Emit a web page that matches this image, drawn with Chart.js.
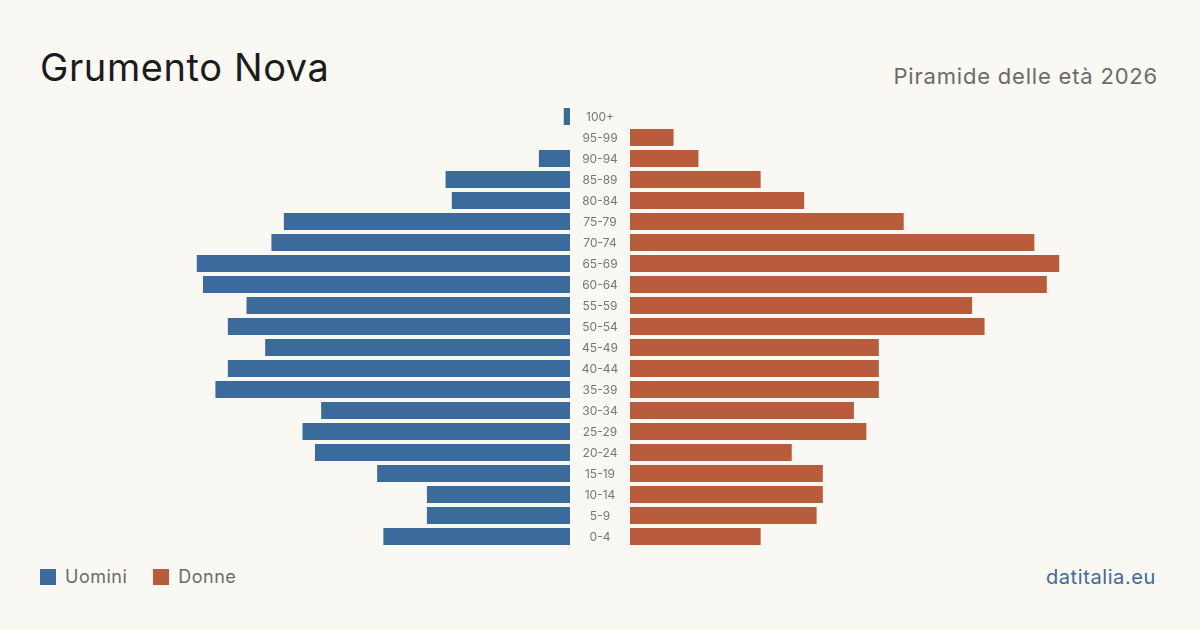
<!DOCTYPE html>
<html>
<head>
<meta charset="utf-8">
<script src="https://cdn.jsdelivr.net/npm/chart.js@4.4.1/dist/chart.umd.min.js"></script>
<style>
  html, body { margin: 0; padding: 0; background: #f9f8f3; }
  body { width: 1200px; height: 630px; position: relative; overflow: hidden; font-family: Inter, "Noto Sans", sans-serif; }
  #title { position: absolute; left: 40px; top: 45px; font-size: 38px; line-height: 44px; color: #1c1c1c; font-weight: 400; letter-spacing: 0.6px; }
  #subtitle { position: absolute; right: 42px; top: 62px; font-size: 22px; line-height: 28px; color: #6b6b6b; letter-spacing: 0.8px; }
  #left { position: absolute; left: 40px; top: 106px; width: 590px; height: 441px; }
  #right { position: absolute; left: 630px; top: 106px; width: 530px; height: 441px; }
  #legend { position: absolute; left: 40px; top: 566px; font-size: 18px; color: #6b6b6b; display: flex; align-items: center; letter-spacing: 0.5px; }
  .item { display: flex; align-items: center; margin-right: 26px; }
  .sw { width: 16px; height: 16px; display: inline-block; margin-right: 9px; }
  #brand { position: absolute; right: 44px; top: 565px; font-size: 20px; color: #3b6b9a; letter-spacing: 0.6px; }
</style>
</head>
<body>
<div id="title">Grumento Nova</div>
<div id="subtitle">Piramide delle età 2026</div>
<div id="left"><canvas id="cl"></canvas></div>
<div id="right"><canvas id="cr"></canvas></div>
<div id="legend"></div>
<div id="brand">datitalia.eu</div>
<script>
const ageGroups = ["100+","95-99","90-94","85-89","80-84","75-79","70-74","65-69","60-64","55-59","50-54","45-49","40-44","35-39","30-34","25-29","20-24","15-19","10-14","5-9","0-4"];
const men   = [1, 0, 5, 20, 19, 46, 48, 60, 59, 52, 55, 49, 55, 57, 40, 43, 41, 31, 23, 23, 30];
const women = [0, 7, 11, 21, 28, 44, 65, 69, 67, 55, 57, 40, 40, 40, 36, 38, 26, 31, 31, 30, 21];
const seriesNames = ["Uomini", "Donne"];
const colors = ["#3b6b9a", "#b95c3c"];
const axisMax = 85.2;

const labelPlugin = {
  id: 'centerLabels',
  afterDraw(chart) {
    const ctx = chart.ctx;
    const y = chart.scales.y;
    const xr = chart.chartArea.right + 30;
    ctx.save();
    ctx.font = '12px Inter, "Noto Sans", sans-serif';
    ctx.fillStyle = '#777777';
    ctx.textAlign = 'center';
    ctx.textBaseline = 'middle';
    ageGroups.forEach((lab, i) => {
      ctx.fillText(lab, xr, y.getPixelForValue(i) + 1);
    });
    ctx.restore();
  }
};

function makeChart(id, data, color, name, reverse, padRight, plugins) {
  return new Chart(document.getElementById(id), {
    type: 'bar',
    data: { labels: ageGroups, datasets: [{ label: name, data: data, backgroundColor: color, borderWidth: 0, barPercentage: 0.81, categoryPercentage: 1.0 }] },
    options: {
      indexAxis: 'y',
      responsive: true,
      maintainAspectRatio: false,
      animation: false,
      layout: { padding: { left: 0, right: padRight, top: 0, bottom: 0 } },
      plugins: { legend: { display: false }, tooltip: { enabled: false } },
      scales: {
        x: { display: false, min: 0, max: axisMax, reverse: reverse, grid: { display: false } },
        y: { display: false, grid: { display: false } }
      }
    },
    plugins: plugins
  });
}

makeChart('cl', men, colors[0], seriesNames[0], true, 60, [labelPlugin]);
makeChart('cr', women, colors[1], seriesNames[1], false, 0, []);

const legend = document.getElementById('legend');
seriesNames.forEach((n, i) => {
  const it = document.createElement('div');
  it.className = 'item';
  it.innerHTML = '<span class="sw" style="background:' + colors[i] + '"></span><span>' + n + '</span>';
  legend.appendChild(it);
});
</script>
</body>
</html>
